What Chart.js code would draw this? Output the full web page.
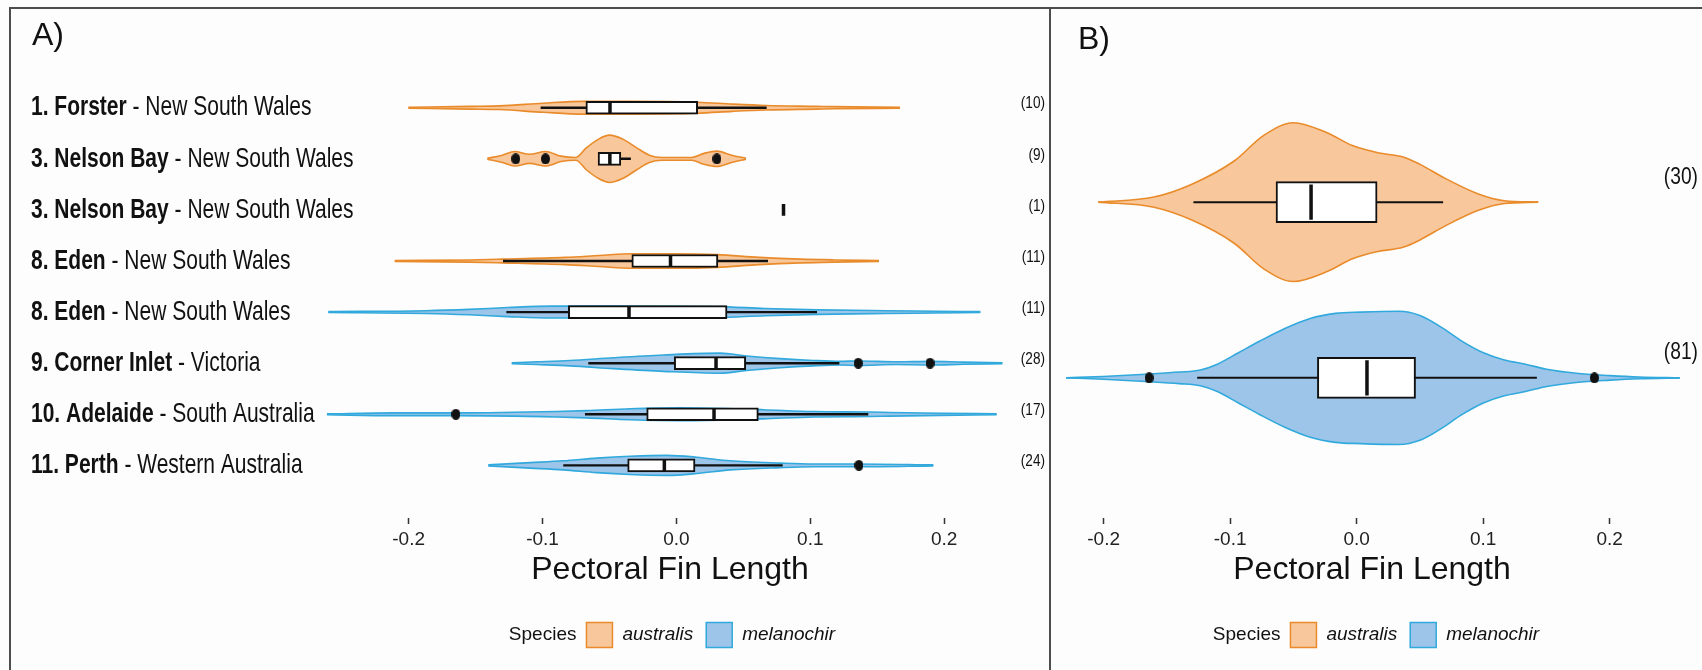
<!DOCTYPE html>
<html>
<head>
<meta charset="utf-8">
<script src="https://cdn.jsdelivr.net/npm/chart.js@4.4.1/dist/chart.umd.min.js"></script>
<style>
  body { margin: 0; background: #fdfdfd; }
  #wrap { position: relative; width: 1702px; height: 670px; overflow: hidden; }
  canvas { position: absolute; top: 0; }
  #chartA { left: 0; }
  #chartB { left: 1050px; }
  .rule { position: absolute; background: #4d4d4d; }
</style>
</head>
<body>
<div id="wrap">
  <canvas id="chartA" width="1050" height="670"></canvas>
  <canvas id="chartB" width="652" height="670"></canvas>
  <div class="rule" style="left:9px;top:7px;width:1693px;height:2px"></div>
  <div class="rule" style="left:9px;top:7px;width:2px;height:663px"></div>
  <div class="rule" style="left:1049px;top:7px;width:2px;height:663px"></div>
</div>
<script>
// ---- data -------------------------------------------------------------
const xTicks = [-0.2, -0.1, 0.0, 0.1, 0.2];
const speciesNames = ["australis", "melanochir"];
const fillColors = ["#f8c89c", "#9dc5ea"];
const lineColors = ["#e98b2b", "#31a9dc"];

// panel A: one row per site / species
const siteNums = ["1.", "3.", "3.", "8.", "8.", "9.", "10.", "11."];
const siteNames = ["Forster", "Nelson Bay", "Nelson Bay", "Eden", "Eden", "Corner Inlet", "Adelaide", "Perth"];
const regions = ["New South Wales", "New South Wales", "New South Wales", "New South Wales",
                 "New South Wales", "Victoria", "South Australia", "Western Australia"];
const rowSpecies = [0, 0, 0, 0, 1, 1, 1, 1];
const rowCounts = [10, 9, 1, 11, 11, 28, 17, 24];

const q1A  = [-0.0676, -0.0585, 0.080, -0.0333, -0.0807, -0.0016, -0.0222, -0.0364];
const medA = [-0.0496, -0.0497, 0.080, -0.0044, -0.0354,  0.0296,  0.0281, -0.0090];
const q3A  = [ 0.0159, -0.0415, 0.080,  0.0310,  0.0378,  0.0518,  0.0612,  0.0139];
const loA  = [-0.1014, -0.0585, 0.080, -0.1295, -0.1270, -0.0658, -0.0683, -0.0845];
const hiA  = [ 0.0674, -0.0340, 0.080,  0.0684,  0.1050,  0.1217,  0.1433,  0.0794];
const outliersA = [[], [-0.1200, -0.0978, 0.0302], [], [], [], [0.1358, 0.1894], [-0.1647], [0.1363]];

// violin outlines: x positions and half widths (in row units)
const violinXA = [
  [-0.2002, -0.154, -0.132, -0.0996, -0.070, -0.032, 0.016, 0.042, 0.067, 0.105, 0.117, 0.167],
  [-0.1412, -0.130, -0.1208, -0.1097, -0.0978, -0.0862, -0.0751, -0.0673, -0.0578, -0.0500,
   -0.0406, -0.0296, -0.0202, -0.0108, 0.0113, 0.0206, 0.0302, 0.0412, 0.052],
  [],
  [-0.2104, -0.155, -0.130, -0.0832, -0.0578, -0.0327, -0.0013, 0.0302, 0.0617, 0.093, 0.118, 0.1513],
  [-0.260, -0.1874, -0.1549, -0.1259, -0.0934, -0.0427, 0.0296, 0.066, 0.1058, 0.1565, 0.1925, 0.227],
  [-0.123, -0.1043, -0.0795, -0.0471, -0.0098, 0.0326, 0.0525, 0.0774, 0.1022, 0.122, 0.1358,
   0.1645, 0.1894, 0.2143, 0.2435],
  [-0.261, -0.211, -0.1647, -0.0894, -0.067, -0.0347, 0.0027, 0.0425, 0.0649, 0.1022, 0.1446,
   0.1595, 0.1969, 0.2392],
  [-0.1405, -0.1093, -0.0845, -0.0595, -0.0347, -0.0072, 0.0152, 0.040, 0.0774, 0.1022, 0.1358, 0.1919],
];
const violinWA = [
  [0.010, 0.027, 0.036, 0.089, 0.125, 0.125, 0.107, 0.071, 0.044, 0.027, 0.021, 0.009],
  [0.009, 0.071, 0.142, 0.089, 0.142, 0.053, 0.027, 0.214, 0.391, 0.463, 0.391, 0.214, 0.071,
   0.027, 0.027, 0.107, 0.151, 0.071, 0.009],
  [],
  [0.009, 0.021, 0.036, 0.071, 0.107, 0.142, 0.142, 0.125, 0.071, 0.036, 0.021, 0.009],
  [0.009, 0.027, 0.053, 0.089, 0.116, 0.116, 0.107, 0.071, 0.044, 0.027, 0.018, 0.009],
  [0.009, 0.027, 0.053, 0.107, 0.160, 0.196, 0.142, 0.089, 0.053, 0.036, 0.044, 0.027, 0.036, 0.021, 0.009],
  [0.009, 0.027, 0.027, 0.053, 0.071, 0.107, 0.125, 0.107, 0.089, 0.053, 0.044, 0.036, 0.021, 0.009],
  [0.009, 0.053, 0.089, 0.142, 0.178, 0.196, 0.160, 0.089, 0.044, 0.027, 0.027, 0.009],
];

// panel B: pooled by species
const speciesB = [0, 1];
const countsB = [30, 81];
const q1B  = [-0.0637, -0.0310];
const medB = [-0.0360,  0.0082];
const q3B  = [ 0.0162,  0.0466];
const loB  = [-0.1290, -0.1260];
const hiB  = [ 0.0684,  0.1425];
const outliersB = [[], [-0.164, 0.188]];
const violinXB = [
  [-0.2042, -0.1602, -0.1302, -0.0968, -0.0734, -0.05, -0.0234, -0.0033, 0.0168, 0.0367, 0.0501,
   0.0701, 0.0968, 0.1168, 0.1436],
  [-0.2296, -0.2002, -0.1668, -0.1402, -0.1235, -0.1101, -0.0934, -0.0768, -0.0567, -0.0367, -0.0167,
   0.0034, 0.0334, 0.0501, 0.0668, 0.0835, 0.1002, 0.1168, 0.1335, 0.1502, 0.1736, 0.2003, 0.2237, 0.2555],
];
const violinWB = [
  [0, 0.029, 0.102, 0.234, 0.380, 0.452, 0.395, 0.322, 0.281, 0.257, 0.215, 0.135, 0.045, 0.008, 0],
  [0, 0.008, 0.021, 0.033, 0.045, 0.078, 0.143, 0.208, 0.281, 0.338, 0.367, 0.374, 0.379, 0.355,
   0.289, 0.208, 0.143, 0.102, 0.078, 0.049, 0.026, 0.013, 0.005, 0],
];

// ---- helpers ----------------------------------------------------------
const FONT = '"Liberation Sans", Arial, sans-serif';
Chart.defaults.font.family = FONT;
Chart.defaults.color = "#222";

function dotImage(w, h) {
  const c = document.createElement("canvas");
  c.width = w; c.height = h;
  const g = c.getContext("2d");
  g.fillStyle = "#111";
  g.beginPath();
  g.ellipse(w / 2, h / 2, w / 2, h / 2, 0, 0, Math.PI * 2);
  g.fill();
  return c;
}
const dot = dotImage(9, 11);

function buildDatasets(p) {
  const ds = [];
  p.species.forEach((sp, i) => {
    const xs = p.vx[i], ws = p.vw[i];
    if (xs.length) {
      const common = {
        type: "line", borderColor: lineColors[sp], borderWidth: 1.6, pointRadius: 0,
        cubicInterpolationMode: "monotone", order: 5, clip: false,
      };
      ds.push({ ...common, data: xs.map((x, k) => ({ x, y: i - ws[k] })),
                fill: "+1", backgroundColor: fillColors[sp] });
      ds.push({ ...common, data: xs.map((x, k) => ({ x, y: i + ws[k] })), fill: false });
    }
    if (p.lo[i] < p.hi[i]) {
      ds.push({ type: "line", data: [{ x: p.lo[i], y: i }, { x: p.hi[i], y: i }],
                borderColor: "#111", borderWidth: p.whisker, pointRadius: 0, order: 4, clip: false });
    }
    ds.push({ type: "line", data: [{ x: p.med[i], y: i - p.half }, { x: p.med[i], y: i + p.half }],
              borderColor: "#111", borderWidth: p.medWidth, pointRadius: 0, order: 2, clip: false });
  });
  ds.push({
    type: "bar", indexAxis: "y", grouped: false, order: 3,
    data: p.species.map((sp, i) => ({ y: i, x: [p.q1[i], p.q3[i]] })),
    backgroundColor: "#ffffff", borderColor: "#111", borderWidth: 2,
    borderSkipped: false, barThickness: p.boxPx,
  });
  const pts = [];
  p.out.forEach((arr, i) => arr.forEach(x => pts.push({ x, y: i })));
  ds.push({ type: "scatter", data: pts, pointStyle: dot, pointRadius: 5, order: 1, clip: false });
  return ds;
}

function squeezedText(ctx, parts, x, y, sx, align) {
  // parts: [[font, text], ...] drawn one after another, horizontally condensed
  ctx.save();
  let total = 0;
  parts.forEach(([f, t]) => { ctx.font = f; total += ctx.measureText(t).width; });
  ctx.translate(align === "right" ? x - total * sx : x, y);
  ctx.scale(sx, 1);
  ctx.textAlign = "left";
  ctx.textBaseline = "middle";
  let cx = 0;
  parts.forEach(([f, t]) => { ctx.font = f; ctx.fillText(t, cx, 0); cx += ctx.measureText(t).width; });
  ctx.restore();
}

const speciesLegend = {
  id: "speciesLegend",
  afterDraw(chart, args, opts) {
    const ctx = chart.ctx;
    ctx.save();
    const reg = `19px ${FONT}`, ital = `italic 19px ${FONT}`;
    ctx.font = reg;
    const wTitle = ctx.measureText("Species").width;
    ctx.font = ital;
    const wNames = speciesNames.map(n => ctx.measureText(n).width);
    const box = 26, gap = 10, itemGap = 13;
    let total = wTitle + gap + itemGap * (speciesNames.length - 1);
    wNames.forEach(w => { total += box + gap + w; });
    let x = opts.cx - total / 2;
    const y = opts.y;
    ctx.textBaseline = "middle";
    ctx.fillStyle = "#111";
    ctx.font = reg;
    ctx.fillText("Species", x, y);
    x += wTitle + gap;
    speciesNames.forEach((n, k) => {
      ctx.fillStyle = fillColors[k];
      ctx.strokeStyle = lineColors[k];
      ctx.lineWidth = 1.5;
      ctx.fillRect(x, y - 12.5, box, 25);
      ctx.strokeRect(x, y - 12.5, box, 25);
      x += box + gap;
      ctx.fillStyle = "#111";
      ctx.font = ital;
      ctx.fillText(n, x, y);
      x += wNames[k] + itemGap;
    });
    ctx.restore();
  },
};

const panelText = {
  id: "panelText",
  afterDraw(chart, args, opts) {
    const ctx = chart.ctx;
    const ys = chart.scales.y;
    ctx.save();
    ctx.fillStyle = "#111";
    ctx.font = `32px ${FONT}`;
    ctx.textBaseline = "middle";
    ctx.fillText(opts.letter, opts.letterX, opts.letterY);
    opts.counts.forEach((n, i) => {
      const y = ys.getPixelForValue(i) + opts.countDy;
      squeezedText(ctx, [[`${opts.countSize}px ${FONT}`, `(${n})`]], opts.countX, y, 0.8, "right");
    });
    if (opts.rowLabels) {
      siteNames.forEach((s, i) => {
        const y = ys.getPixelForValue(i);
        squeezedText(ctx, [[`bold 28px ${FONT}`, `${siteNums[i]} ${s}`], [`28px ${FONT}`, ` - ${regions[i]}`]],
                     31, y, 0.75, "left");
      });
    }
    ctx.restore();
  },
};

function xAxis(min, max) {
  return {
    type: "linear", position: "bottom", min, max,
    border: { display: false },
    grid: { drawOnChartArea: false, drawTicks: true, tickLength: 6, tickWidth: 1.5, tickColor: "#333" },
    ticks: { padding: 4, color: "#222", font: { size: 19 }, callback: v => v.toFixed(1) },
    afterBuildTicks: axis => { axis.ticks = xTicks.map(v => ({ value: v })); },
    afterFit: scale => { scale.height = 152; },
    title: { display: true, text: "Pectoral Fin Length", color: "#111", font: { size: 32 },
             padding: { top: 0, bottom: 81 } },
  };
}

function makeChart(id, p, xr, yr, pad, textOpts, legendOpts) {
  return new Chart(document.getElementById(id), {
    type: "line",
    data: { datasets: buildDatasets(p) },
    options: {
      responsive: false, animation: false, devicePixelRatio: 1, events: [],
      layout: { padding: pad },
      scales: {
        x: xAxis(xr[0], xr[1]),
        y: { type: "linear", display: false, reverse: true, min: yr[0], max: yr[1] },
      },
      plugins: {
        legend: { display: false }, tooltip: { enabled: false },
        filler: { drawTime: "beforeDatasetsDraw" },
        panelText: textOpts, speciesLegend: legendOpts,
      },
    },
    plugins: [panelText, speciesLegend],
  });
}

// ---- panel A ----------------------------------------------------------
makeChart("chartA",
  { species: rowSpecies, vx: violinXA, vw: violinWA, q1: q1A, med: medA, q3: q3A, lo: loA, hi: hiA,
    out: outliersA, half: 0.116, boxPx: 13, whisker: 2.4, medWidth: 3.5 },
  [-0.27364, 0.26408], [-1.274, 7.587],
  { left: 310, right: 20, top: 20, bottom: 0 },
  { letter: "A)", letterX: 32, letterY: 36, counts: rowCounts, countX: 1045, countDy: -4, countSize: 17, rowLabels: true },
  { cx: 672, y: 635 });

// ---- panel B ----------------------------------------------------------
makeChart("chartB",
  { species: speciesB, vx: violinXB, vw: violinWB, q1: q1B, med: medB, q3: q3B, lo: loB, hi: hiB,
    out: outliersB, half: 0.1, boxPx: 41, whisker: 2, medWidth: 3.5 },
  [-0.23289, 0.25723], [-0.834, 1.595],
  { left: 12, right: 20, top: 20, bottom: 0 },
  { letter: "B)", letterX: 28, letterY: 40, counts: countsB, countX: 648, countDy: -25, countSize: 24, rowLabels: false },
  { cx: 326, y: 635 });
</script>
</body>
</html>
